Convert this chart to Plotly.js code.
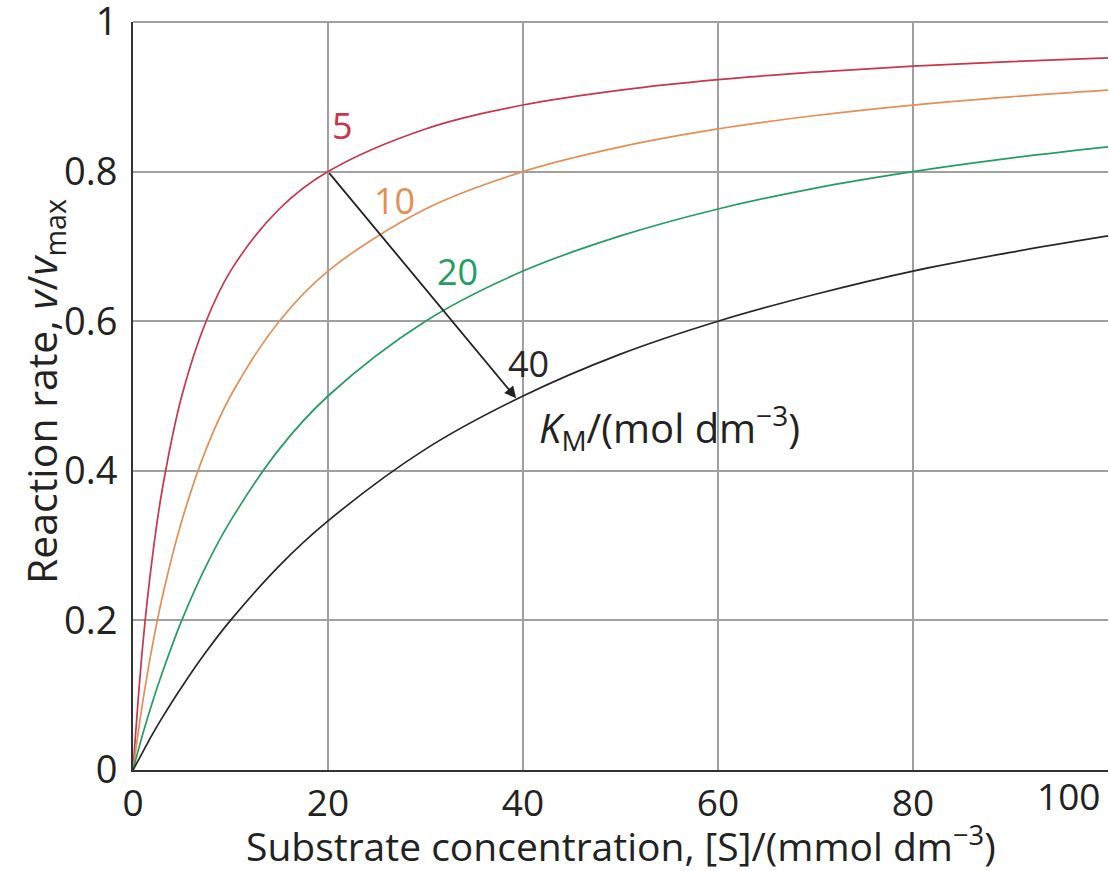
<!DOCTYPE html>
<html>
<head>
<meta charset="utf-8">
<script src="https://cdn.plot.ly/plotly-3.0.1.min.js"></script>
<style>html,body{margin:0;padding:0;background:#fff;}#chart{width:1109px;height:871px;}</style>
</head>
<body>
<div id="chart"></div>
<script>
// Substrate concentration [S] / mmol dm^-3
const substrate = [0, 1, 2, 3, 5, 7.5, 10, 15, 20, 30, 40, 50, 60, 70, 80, 90, 100];
// Reaction rate v/vmax (labelled by KM)
const rateKm5  = [0, 0.167, 0.286, 0.375, 0.500, 0.600, 0.667, 0.750, 0.800, 0.857, 0.889, 0.909, 0.923, 0.933, 0.941, 0.947, 0.952];
const rateKm10 = [0, 0.091, 0.167, 0.231, 0.333, 0.429, 0.500, 0.600, 0.667, 0.750, 0.800, 0.833, 0.857, 0.875, 0.889, 0.900, 0.909];
const rateKm20 = [0, 0.048, 0.091, 0.130, 0.200, 0.273, 0.333, 0.429, 0.500, 0.600, 0.667, 0.714, 0.750, 0.778, 0.800, 0.818, 0.833];
const rateKm40 = [0, 0.024, 0.048, 0.070, 0.111, 0.158, 0.200, 0.273, 0.333, 0.429, 0.500, 0.556, 0.600, 0.636, 0.667, 0.692, 0.714];
const kmLabels = ["5", "10", "20", "40"];
const xTicks = [0, 20, 40, 60, 80];
const yTicks = [0, 0.2, 0.4, 0.6, 0.8, 1];
const yTickText = ["0", "0.2", "0.4", "0.6", "0.8", "1"];

const colors = ["#c9354d", "#e38f55", "#259c62", "#262626"];
const series = [rateKm5, rateKm10, rateKm20, rateKm40];
const FONT = "Open Sans, Liberation Sans, Arial, sans-serif";

const L = 133, W = 975, T = 22, H = 748;
const px = v => (v - L) / W;          // pixel x -> paper
const py = v => (T + H - v) / H;      // pixel y -> paper

const traces = series.map((ys, i) => ({
  x: substrate, y: ys, type: "scatter", mode: "lines",
  line: {color: colors[i], width: 1.7, shape: "spline", smoothing: 1},
  name: kmLabels[i], hoverinfo: "skip"
}));

const labelPos = [[21.5, 0.862], [26.8, 0.762], [33.3, 0.667], [40.6, 0.543]];
const annotations = kmLabels.map((t, i) => ({
  x: labelPos[i][0], y: labelPos[i][1], xref: "x", yref: "y",
  xanchor: "center", yanchor: "middle",
  text: t, showarrow: false, font: {family: FONT, size: 36, color: colors[i]}
}));

annotations.push({
  x: 39.3, y: 0.497, ax: 20, ay: 0.8, xref: "x", yref: "y", axref: "x", ayref: "y",
  text: "", showarrow: true, arrowhead: 2, arrowsize: 1.3, arrowwidth: 1.8, arrowcolor: "#222"
});
annotations.push({
  x: px(669), y: py(427), xref: "paper", yref: "paper", showarrow: false,
  xanchor: "center", yanchor: "middle",
  text: "<i>K</i><sub>M</sub>/(mol dm<sup>−3</sup>)",
  font: {family: FONT, size: 40, color: "#222"}
});
annotations.push({
  x: px(1068), y: py(795), xref: "paper", yref: "paper", showarrow: false, text: "100",
  xanchor: "center", yanchor: "middle",
  font: {family: FONT, size: 37, color: "#222"}
});
annotations.push({
  x: px(43), y: py(392), xref: "paper", yref: "paper", showarrow: false, textangle: -90,
  xanchor: "center", yanchor: "middle",
  text: "Reaction rate, <i>v</i>/<i>v</i><sub>max</sub>",
  font: {family: FONT, size: 41, color: "#222"}
});
annotations.push({
  x: px(621), y: py(844), xref: "paper", yref: "paper", showarrow: false,
  xanchor: "center", yanchor: "middle",
  text: "Substrate concentration, [S]/(mmol dm<sup>−3</sup>)",
  font: {family: FONT, size: 39, color: "#222"}
});

const layout = {
  width: 1109, height: 871,
  margin: {l: L, r: 1109 - L - W, t: T, b: 871 - T - H},
  paper_bgcolor: "#fff", plot_bgcolor: "#fff",
  showlegend: false,
  font: {family: FONT, color: "#222"},
  xaxis: {
    range: [0, 100], tickvals: xTicks, ticktext: xTicks.map(String),
    showgrid: true, gridcolor: "#a0a0a0", gridwidth: 2,
    showline: true, linecolor: "#333", linewidth: 2,
    zeroline: false, ticks: "", ticklabeloverflow: "allow",
    tickfont: {family: FONT, size: 37, color: "#222"}
  },
  yaxis: {
    range: [0, 1], tickvals: yTicks, ticktext: yTickText,
    showgrid: true, gridcolor: "#a0a0a0", gridwidth: 2,
    showline: true, linecolor: "#333", linewidth: 2,
    zeroline: false, ticks: "", ticklabelstandoff: 6, ticklabeloverflow: "allow",
    tickfont: {family: FONT, size: 38, color: "#222"}
  },
  shapes: [{type: "line", xref: "paper", yref: "paper", x0: 0, x1: 1, y0: 1, y1: 1,
            line: {color: "#a0a0a0", width: 2}, layer: "below"}],
  annotations: annotations
};

Plotly.newPlot("chart", traces, layout, {displayModeBar: false, staticPlot: true});
</script>
</body>
</html>
